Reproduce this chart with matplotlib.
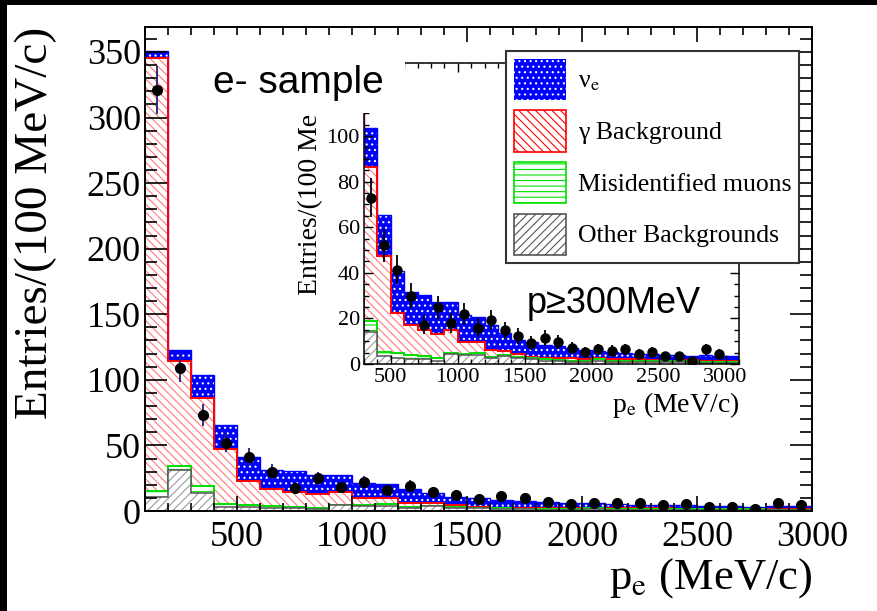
import numpy as np
import matplotlib.pyplot as plt
import matplotlib.patches as mpatches
from matplotlib.ticker import MultipleLocator

plt.rcParams['font.family'] = ['Liberation Serif', 'DejaVu Serif']
plt.rcParams['mathtext.fontset'] = 'stix'
plt.rcParams['hatch.linewidth'] = 0.8

# 100 MeV/c bins starting at 100 MeV/c (last bin only shows in the inset)
bin_start = 100
bin_width = 100

# cumulative stack levels (entries per bin)
stack_total = [351, 123, 103.5, 65.5, 40.8, 31.5, 30.3, 27.2, 27.2, 21.5,
               20.5, 17, 13.5, 10.5, 9.7, 8.4, 7.8, 7, 6, 5.8,
               5.3, 4.8, 4.6, 4.6, 4, 3.8, 3.3, 3.8, 3.6, 3.3]
stack_gamma = [345, 114.7, 86.5, 47.2, 22.5, 17, 14.7, 13.3, 14.7, 9.6,
               9.6, 6.2, 5.8, 4.6, 3, 2.5, 2.5, 2.5, 2.2, 2.5,
               2.2, 2, 2, 1.8, 1.5, 1.5, 1.8, 1.3, 1.3, 1.2]
stack_muon = [15.5, 34, 19, 5.3, 4.8, 3.8, 3.3, 2.5, 4.8, 4.5,
              5, 3, 3.8, 3.2, 2.5, 2, 1.8, 1.5, 1.5, 2,
              1.5, 1.5, 1.3, 1.3, 1.2, 1.2, 1.2, 0.8, 0.8, 0.8]
stack_other = [11, 31, 14, 3.3, 2.8, 2, 2, 1.5, 4.5, 4,
               4, 2.5, 3.5, 2.5, 2, 1.5, 1.5, 1, 1, 1.5,
               1, 1, 1, 1, 0.8, 0.8, 0.8, 0.5, 0.5, 0.5]

# data points and their error bars
data_counts = [321, 109, 73, 52, 41.4, 30, 17.3, 24.9, 18, 21.9,
               16, 19.1, 14.7, 12.2, 9.2, 11.4, 9.7, 7.1, 5.3, 6.4,
               5.8, 6.4, 4.6, 5.3, 3.3, 3.3, 1.3, 6.4, 4.6, np.nan]
data_errors = [18, 10.4, 8.5, 7.2, 6.4, 5.5, 4.2, 5, 4.2, 4.7,
               4, 4.4, 3.8, 3.5, 3, 3.4, 3.1, 2.7, 2.3, 2.5,
               2.4, 2.5, 2.1, 2.3, 1.8, 1.8, 1.1, 2.5, 2.1, np.nan]

legend_labels = ['ν$_{\\rm e}$', 'γ Background', 'Misidentified muons', 'Other Backgrounds']

edges = bin_start + bin_width * np.arange(len(stack_total) + 1)
centers = edges[:-1] + bin_width / 2

W, H = 877, 611
fig = plt.figure(figsize=(W / 100, H / 100), dpi=100)


def draw_stack(ax, ecolor, msize):
    ax.stairs(stack_total, edges, baseline=stack_gamma, fill=True, facecolor='#0000ff',
              edgecolor='white', hatch='...', linewidth=0)
    ax.stairs(stack_total, edges, baseline=None, color='#0000ff', linewidth=1)
    ax.stairs(stack_gamma, edges, baseline=stack_muon, fill=True, facecolor='white',
              edgecolor='#ff7a7a', hatch='\\\\\\\\', linewidth=0)
    ax.stairs(stack_gamma, edges, baseline=None, color='red', linewidth=1.4)
    ax.stairs(stack_muon, edges, baseline=stack_other, fill=True, facecolor='white',
              edgecolor='#00dd00', hatch='---', linewidth=0)
    ax.stairs(stack_muon, edges, baseline=None, color='#00e000', linewidth=1.4)
    ax.stairs(stack_other, edges, baseline=0, fill=True, facecolor='white',
              edgecolor='#9a9a9a', hatch='////', linewidth=0)
    ax.stairs(stack_other, edges, baseline=None, color='#555555', linewidth=1.1)
    ax.errorbar(centers, data_counts, yerr=data_errors, fmt='o', color='black',
                ecolor=ecolor, elinewidth=1.3, markersize=msize, capsize=0, zorder=5)


# main plot
ax = fig.add_axes([145 / W, 1 - 511 / H, 667 / W, 484 / H])
draw_stack(ax, '#20207a', 7)
ax.set_xlim(100, 3000)
ax.set_ylim(0, 369)
ax.xaxis.set_major_locator(MultipleLocator(500))
ax.xaxis.set_minor_locator(MultipleLocator(100))
ax.yaxis.set_major_locator(MultipleLocator(50))
ax.yaxis.set_minor_locator(MultipleLocator(10))
ax.tick_params(which='both', direction='in', top=True, right=True, width=1.2, labelsize=26)
ax.tick_params(axis='x', which='major', length=11, pad=7)
ax.tick_params(axis='x', which='minor', length=5.5)
ax.tick_params(axis='y', which='major', length=16, pad=3)
ax.tick_params(axis='y', which='minor', length=8.5)
for s in ax.spines.values():
    s.set_linewidth(1.4)
ax.set_xlabel(r'p$_{\rm e}$ (MeV/c)', loc='right', fontsize=32, labelpad=2)
ax.set_ylabel('Entries/(100 MeV/c)', loc='top', fontsize=34)
ax.yaxis.set_label_coords(-0.132, 1.0)

# inset, p >= 300 MeV/c (its axis title is cut by the box round "e- sample")
ax2 = fig.add_axes([364 / W, 1 - 364 / H, 375 / W, 301 / H])
draw_stack(ax2, 'black', 6.5)
ax2.set_xlim(300, 3100)
ax2.set_ylim(0, 132)
ax2.xaxis.set_major_locator(MultipleLocator(500))
ax2.xaxis.set_minor_locator(MultipleLocator(100))
ax2.yaxis.set_major_locator(MultipleLocator(20))
ax2.yaxis.set_minor_locator(MultipleLocator(5))
ax2.tick_params(which='both', direction='in', top=True, right=True, width=1, labelsize=16)
ax2.tick_params(which='major', length=6.5, pad=3)
ax2.tick_params(which='minor', length=3.5)
for s in ax2.spines.values():
    s.set_linewidth(1.1)
ax2.set_xlabel(r'p$_{\rm e}$ (MeV/c)', loc='right', fontsize=20, labelpad=2)
ax2.set_ylabel('Entries/(100 Me', fontsize=20, ha='right')
ax2.yaxis.set_label_coords(-0.109, 0.832)

# legend
handles = [
    mpatches.Patch(facecolor='#0000ff', edgecolor='white', hatch='...', linewidth=0),
    mpatches.Patch(facecolor='white', edgecolor='red', hatch='\\\\\\\\', linewidth=1.2),
    mpatches.Patch(facecolor='white', edgecolor='#00e000', hatch='---', linewidth=1.2),
    mpatches.Patch(facecolor='white', edgecolor='#555555', hatch='////', linewidth=1.2),
]
leg = fig.legend(handles, legend_labels, loc='upper left', bbox_to_anchor=(506 / W, 1 - 51 / H),
                 fontsize=18.5, frameon=True, fancybox=False, framealpha=1, edgecolor='#333333',
                 handlelength=2.05, handleheight=2.1, labelspacing=0.4, handletextpad=0.45,
                 borderpad=0.3, borderaxespad=0)
leg.get_frame().set_linewidth(1.5)

# white box with "e- sample" on top
fig.add_artist(mpatches.Rectangle((200 / W, 1 - 113 / H), 205 / W, 78 / H, transform=fig.transFigure,
                                  facecolor='white', edgecolor='none', zorder=2))
fig.text(213 / W, 1 - 93 / H, 'e- sample', fontsize=28, family='Liberation Sans',
         va='baseline', zorder=3)
fig.text(527 / W, 1 - 313 / H, 'p≥300MeV', fontsize=26, family='Liberation Sans',
         va='baseline', zorder=3)

# black frame at top and left edge
fig.add_artist(mpatches.Rectangle((0, 1 - 5 / H), 1, 5 / H, transform=fig.transFigure,
                                  facecolor='black', edgecolor='none', zorder=10))
fig.add_artist(mpatches.Rectangle((0, 0), 7 / W, 1, transform=fig.transFigure,
                                  facecolor='black', edgecolor='none', zorder=10))

fig.savefig('out.png', dpi=100)
